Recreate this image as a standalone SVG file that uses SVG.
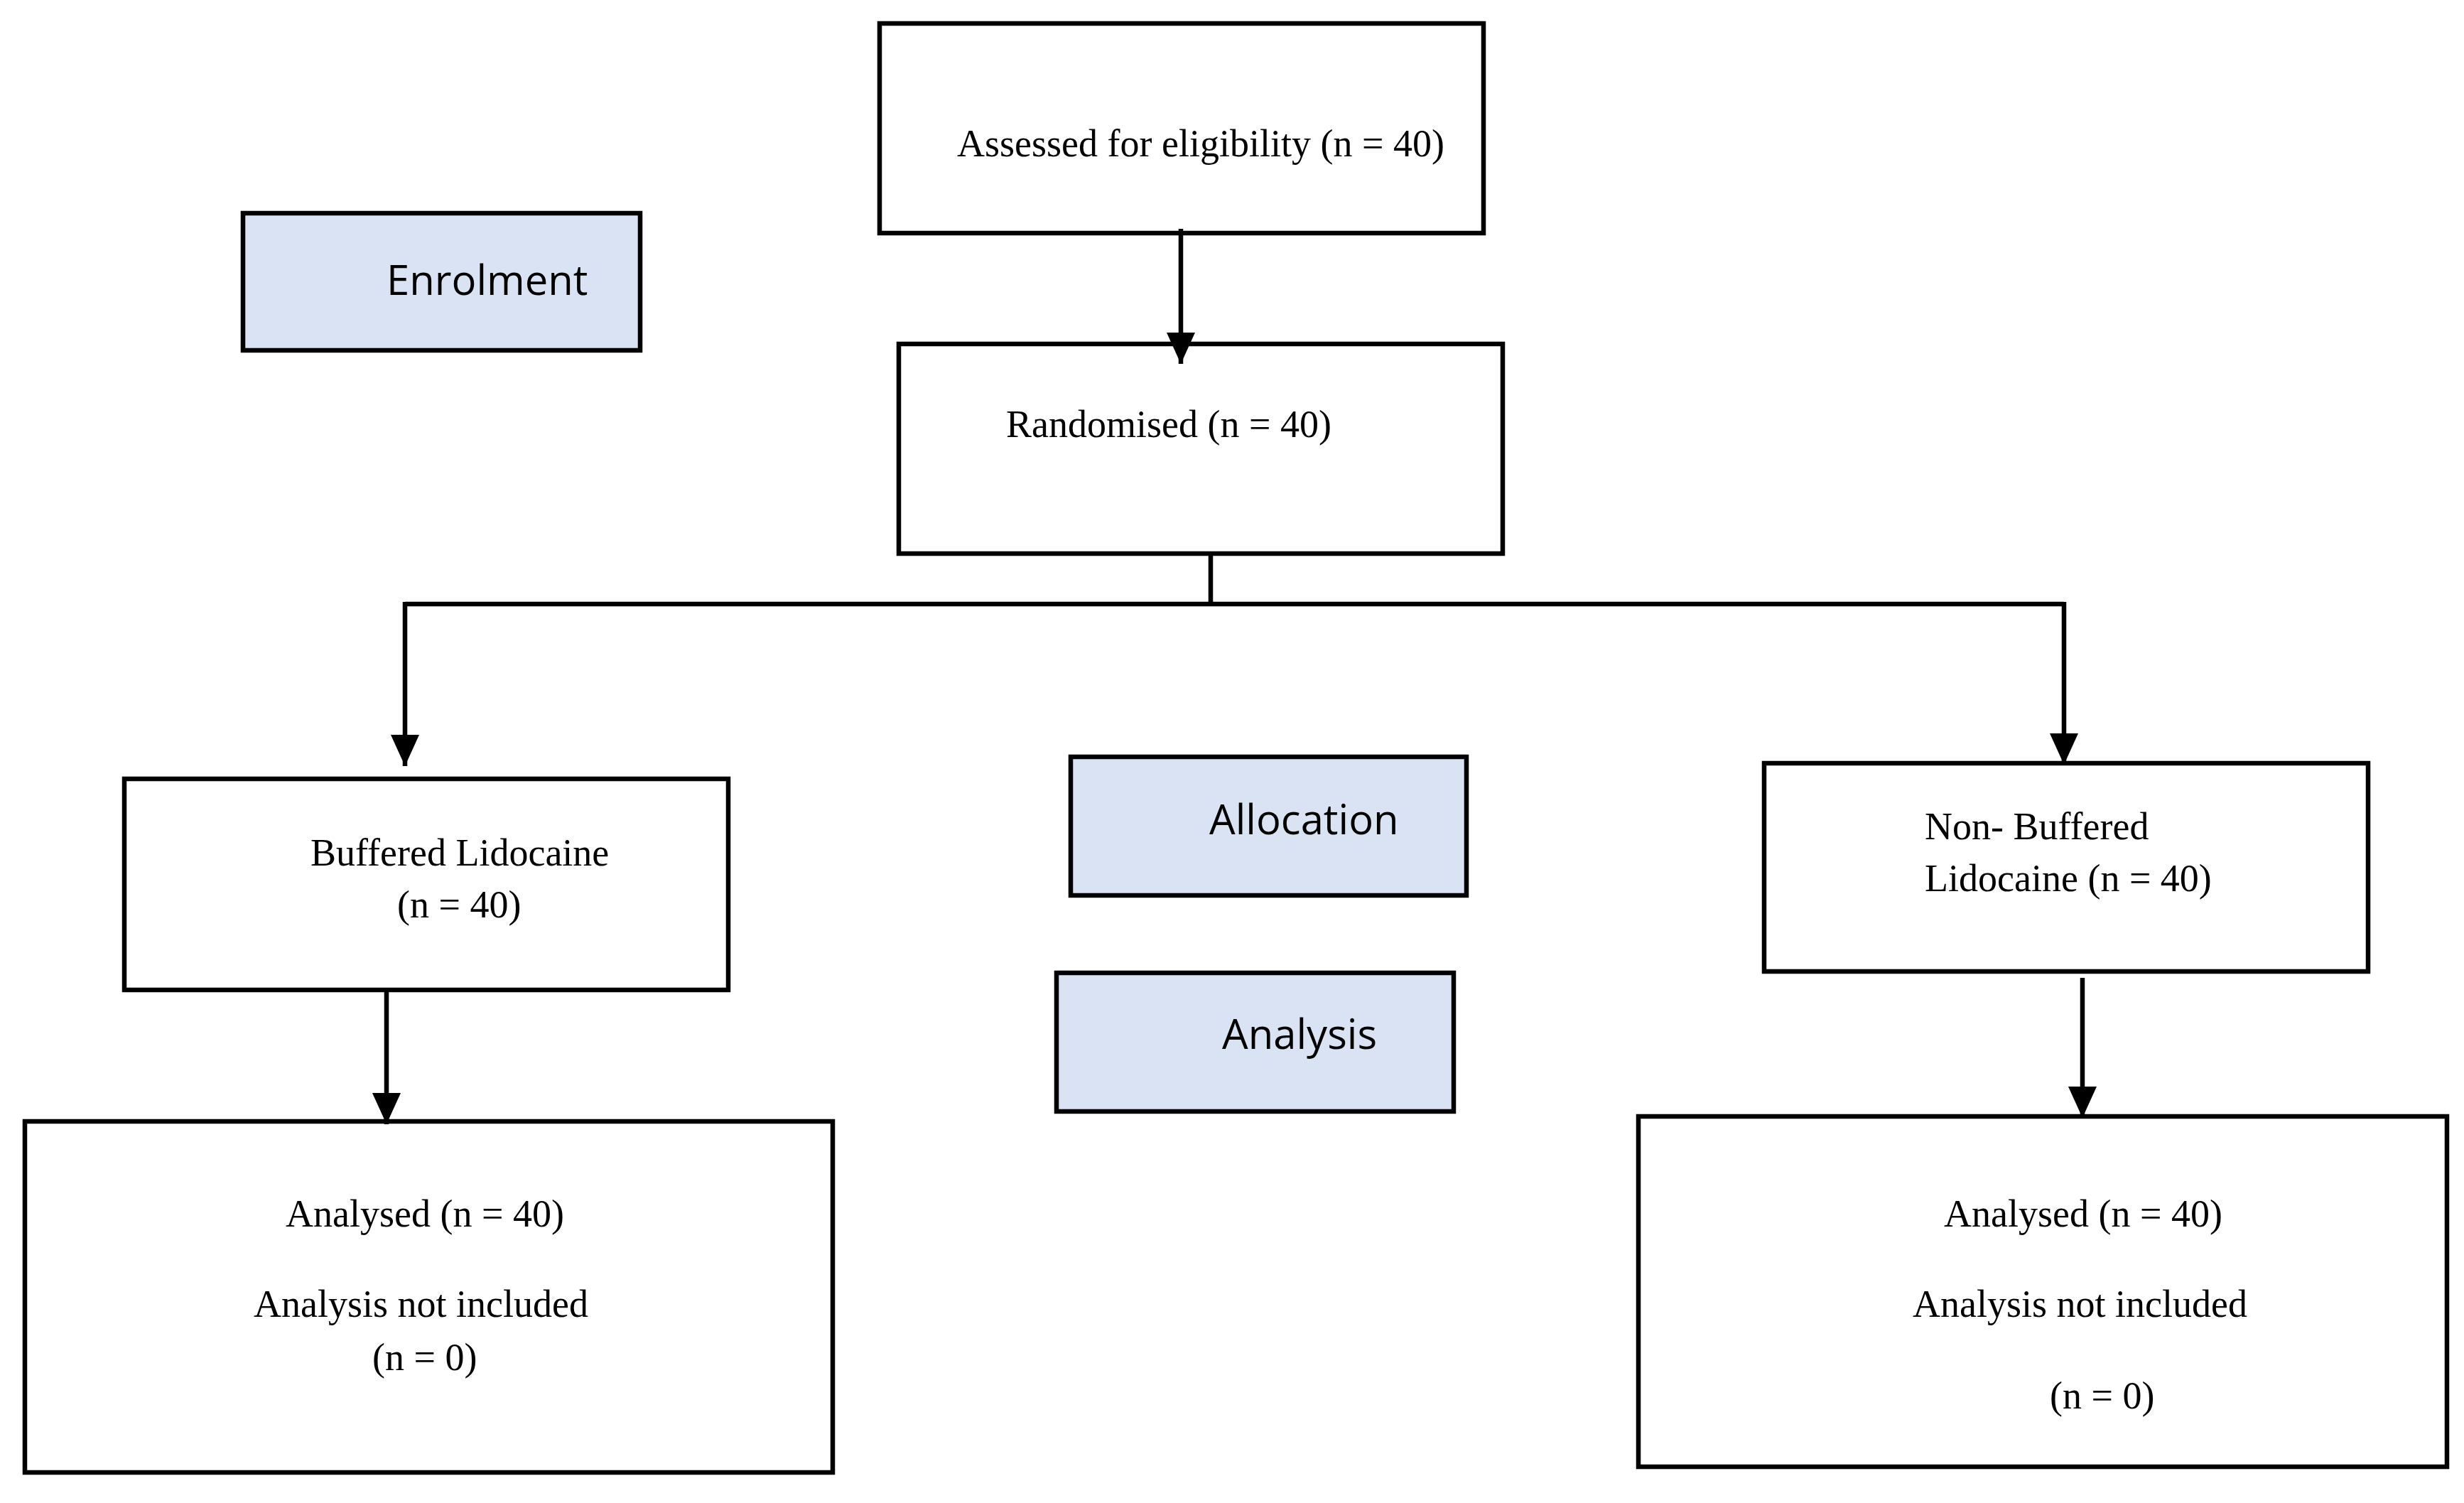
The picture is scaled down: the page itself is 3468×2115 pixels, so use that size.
<svg xmlns="http://www.w3.org/2000/svg" width="3468" height="2115" viewBox="0 0 3468 2115">
<style>
.b{fill:#fff;stroke:#000;stroke-width:6.5}
.l{fill:#dae3f3;stroke:#000;stroke-width:6.5}
.t{font-family:"Liberation Serif",serif;font-size:54px;fill:#000}
.s{font-family:"Open Sans","Noto Sans",sans-serif;font-size:58px;fill:#000}
.c{fill:none;stroke:#000;stroke-width:6.5}
</style>
<defs><marker id="a" markerUnits="userSpaceOnUse" markerWidth="40" markerHeight="44" refX="20" refY="40" orient="auto-start-reverse" viewBox="0 0 40 44"><path d="M0,0 L40,0 L20,44 Z" fill="#000" transform="rotate(-90 20 22) rotate(90 20 22)"/></marker>
<marker id="d" markerUnits="userSpaceOnUse" markerWidth="44" markerHeight="40" refX="44" refY="20" orient="auto" viewBox="0 0 44 40"><path d="M0,0 L44,20 L0,40 Z" fill="#000"/></marker></defs>
<g id="n1"><rect class="b" x="1238" y="33" width="850" height="295"/><text class="t" x="1347" y="220" font-size="50">Assessed for eligibility (n = 40)</text></g>
<g id="n2"><rect class="l" x="342" y="300" width="559" height="193"/><text class="s" x="544" y="415">Enrolment</text></g>
<g id="n3"><rect class="b" x="1265" y="484" width="850" height="295"/><text class="t" x="1416" y="615">Randomised (n = 40)</text></g>
<g id="n4"><rect class="b" x="175" y="1096" width="850" height="297"/><text class="t" x="437" y="1218">Buffered Lidocaine</text><text class="t" x="559" y="1291">(n = 40)</text></g>
<g id="n5"><rect class="l" x="1507" y="1065" width="557" height="195"/><text class="s" x="1702" y="1174">Allocation</text></g>
<g id="n6"><rect class="b" x="2483" y="1074" width="850" height="293"/><text class="t" x="2709" y="1181">Non- Buffered</text><text class="t" x="2709" y="1254">Lidocaine (n = 40)</text></g>
<g id="n7"><rect class="l" x="1487" y="1369" width="559" height="195"/><text class="s" x="1720" y="1476">Analysis</text></g>
<g id="n8"><rect class="b" x="35" y="1578" width="1137" height="494"/><text class="t" x="402" y="1726">Analysed (n = 40)</text><text class="t" x="357" y="1853">Analysis not included</text><text class="t" x="524" y="1928">(n = 0)</text></g>
<g id="n9"><rect class="b" x="2306" y="1571" width="1138" height="493"/><text class="t" x="2736" y="1726">Analysed (n = 40)</text><text class="t" x="2692" y="1853">Analysis not included</text><text class="t" x="2885" y="1982">(n = 0)</text></g>
<g id="connectors">
<path class="c" d="M1662,322 V512" marker-end="url(#d)"/>
<path class="c" d="M1704,779 V850"/>
<path class="c" d="M570,850 H2905"/>
<path class="c" d="M570,847 V1078" marker-end="url(#d)"/>
<path class="c" d="M2905,847 V1076" marker-end="url(#d)"/>
<path class="c" d="M544,1393 V1582" marker-end="url(#d)"/>
<path class="c" d="M2931,1376 V1573" marker-end="url(#d)"/>
</g>
</svg>
